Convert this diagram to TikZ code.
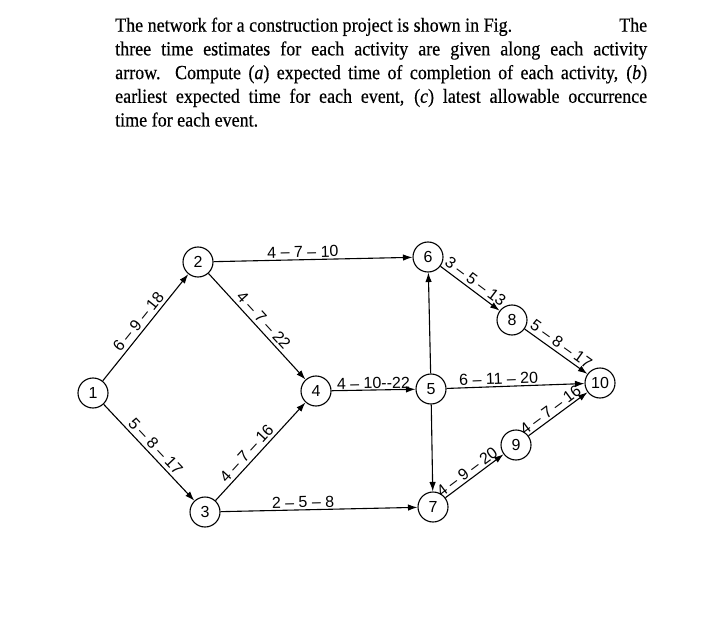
\documentclass[tikz,border=0pt]{standalone}
\usepackage{fontspec}
\setmainfont[FakeStretch=0.9,FakeBold=0.4]{Liberation Serif}
\newfontfamily\netfont{Liberation Sans}
\usetikzlibrary{
    arrows.meta,
    positioning,
}

\begin{document}
\begin{tikzpicture}[
    x=1pt, y=1pt,
    >={Latex[length=9.5pt,width=6.5pt]},
    event/.style={draw, circle, line width=1.1pt, minimum size=30pt, inner sep=0pt,
                font=\netfont\fontsize{16}{16}\selectfont},
    activity/.style={->, line width=1.1pt},
    estimate/.style={font=\netfont\fontsize{16}{16}\selectfont, inner sep=3pt, above, sloped},
]
\useasboundingbox (0,0) rectangle (708,635);

\node[anchor=base west, text width=532pt, align=justify, inner sep=0pt,
      font=\fontsize{20}{23.7}\selectfont] (problem) at (115,603.3)
    {The network for a construction project is shown in Fig.\hfill The\linebreak
     three time estimates for each activity are given along each activity\linebreak
     arrow. Compute (\textit{a}) expected time of completion of each activity, (\textit{b})\linebreak
     earliest expected time for each event, (\textit{c}) latest allowable occurrence\linebreak
     time for each event.};

% events
\node[event] (n1) at (93,242) {1};
\node[event] (n2) at (198,373) {2};
\node[event] (n3) at (205,123) {3};
\node[event] (n4) at (316,244) {4};
\node[event] (n5) at (431,246) {5};
\node[event] (n6) at (428,378) {6};
\node[event] (n7) at (433,128) {7};
\node[event] (n8) at (512,315) {8};
\node[event] (n9) at (516,190) {9};
\node[event] (n10) at (600,252) {10};

% activities
\draw[activity] (n1) -- node[estimate] {6 – 9 – 18} (n2);
\draw[activity] (n1) -- node[estimate] {5 – 8 – 17} (n3);
\draw[activity] (n2) -- node[estimate, pos=0.45, inner sep=1.5pt] {4 – 7 – 10} (n6);
\draw[activity] (n2) -- node[estimate] {4 – 7 – 22} (n4);
\draw[activity] (n3) -- node[estimate, pos=0.42] {4 – 7 – 16} (n4);
\draw[activity] (n3) -- node[estimate, pos=0.42, inner sep=1.5pt] {2 – 5 – 8} (n7);
\draw[activity] (n4) -- node[estimate, inner sep=0.5pt] {4 – 10-{}-22} (n5);
\draw[activity] (n5) -- (n6);
\draw[activity] (n5) -- (n7);
\draw[activity] (n5) -- node[estimate, pos=0.38, inner sep=1.5pt] {6 – 11 – 20} (n10);
\draw[activity] (n6) -- node[estimate] {3 – 5 – 13} (n8);
\draw[activity] (n8) -- node[estimate] {5 – 8 – 17} (n10);
\draw[activity] (n7) -- node[estimate, pos=0.45, inner sep=1.5pt] {4 – 9 – 20} (n9);
\draw[activity] (n9) -- node[estimate, pos=0.45, inner sep=1.5pt] {4 – 7 – 16} (n10);

\end{tikzpicture}
\end{document}
